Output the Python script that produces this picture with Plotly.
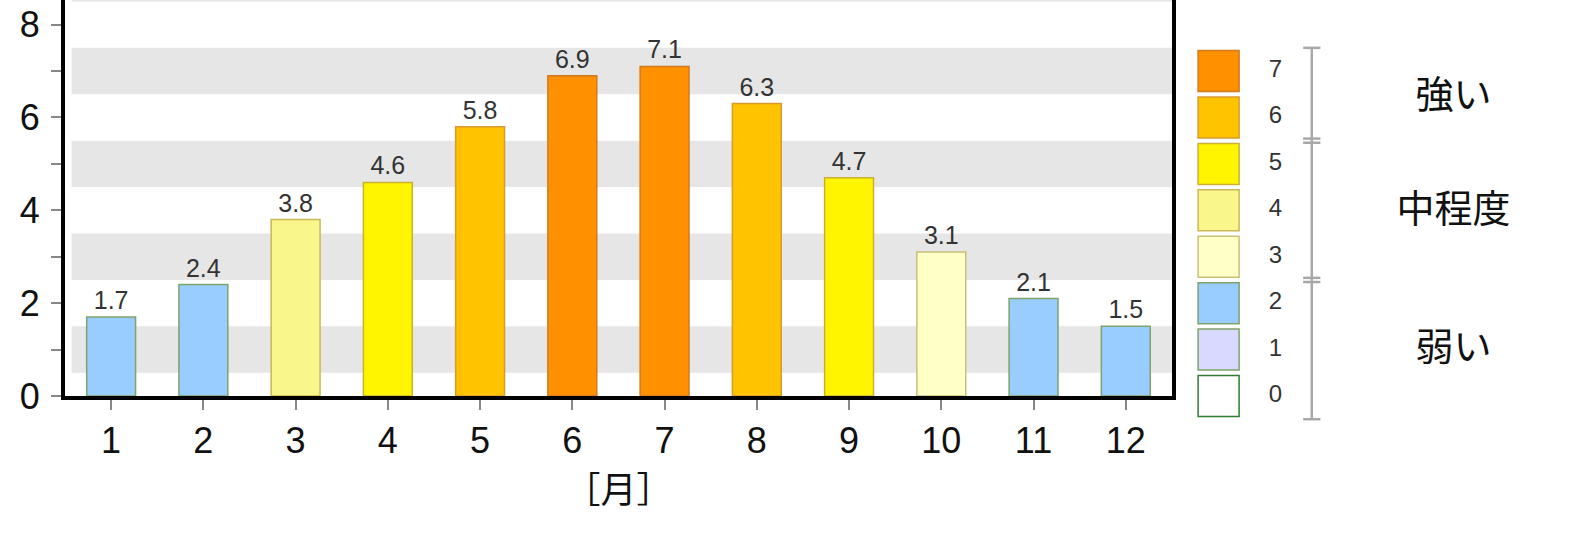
import plotly.graph_objects as go

months = [1, 2, 3, 4, 5, 6, 7, 8, 9, 10, 11, 12]
uv_index = [1.7, 2.4, 3.8, 4.6, 5.8, 6.9, 7.1, 6.3, 4.7, 3.1, 2.1, 1.5]

levels = [0, 1, 2, 3, 4, 5, 6, 7]
level_fill = ["#ffffff", "#d9d9ff", "#99ccff", "#ffffc8", "#f9f78c", "#fff500", "#ffc300", "#ff9100"]
level_line = ["#2e7d32", "#7fa36a", "#7fa36a", "#c9c07a", "#c9b75a", "#c9b030", "#d89a30", "#d07a20"]

groups = ["強い", "中程度", "弱い"]
group_mid = [6.4, 3.95, 0.98]
group_breaks = [-0.5, 2.5, 5.5, 7.5]

band_lo = [0.5, 2.5, 4.5, 6.5, 8.5]

FONT = "Liberation Sans, Arial, sans-serif"
JP = "Noto Sans CJK JP, sans-serif"

W, H, BOTTOM = 1571, 546, 150
YMAX = 8.53
# legend axis uses the same scale as the main y axis but reaches the page bottom
y2_min = -BOTTOM * YMAX / (H - BOTTOM)

lvl = [min(7, int(round(v))) for v in uv_index]

fig = go.Figure()
fig.add_trace(go.Bar(
    x=months, y=uv_index, width=0.53,
    marker=dict(color=[level_fill[i] for i in lvl],
                line=dict(color=[level_line[i] for i in lvl], width=1.5)),
    text=[f"{v:.1f}" for v in uv_index], textposition="outside",
    textfont=dict(family=FONT, size=25, color="#333333"),
    cliponaxis=False, showlegend=False, hoverinfo="x+y",
))

fig.add_trace(go.Scatter(
    x=[1.0] * len(levels), y=levels, mode="markers", xaxis="x2", yaxis="y2",
    marker=dict(symbol="square", size=41, color=level_fill,
                line=dict(color=level_line, width=1.5)),
    showlegend=False, hoverinfo="skip",
))
fig.add_trace(go.Scatter(
    x=[2.45] * len(levels), y=levels, mode="text", xaxis="x2", yaxis="y2",
    text=[str(l) for l in levels], textposition="middle center",
    textfont=dict(family=FONT, size=24, color="#333333"),
    showlegend=False, hoverinfo="skip",
))
fig.add_trace(go.Scatter(
    x=[7.0] * len(groups), y=group_mid, mode="text", xaxis="x2", yaxis="y2",
    text=groups, textposition="middle center",
    textfont=dict(family=JP, size=38, color="#111111"),
    showlegend=False, hoverinfo="skip",
))

# bracket next to the legend
bx, cap = 3.38, 0.22
bxs = [bx, bx, None]
bys = [group_breaks[0], group_breaks[-1], None]
for b in group_breaks:
    offs = [0] if b in (group_breaks[0], group_breaks[-1]) else [-0.045, 0.045]
    for d in offs:
        bxs += [bx - cap, bx + cap, None]
        bys += [b + d, b + d, None]
fig.add_trace(go.Scatter(
    x=bxs, y=bys, mode="lines", xaxis="x2", yaxis="y2",
    line=dict(color="#a8a8a8", width=2.5),
    showlegend=False, hoverinfo="skip",
))

shapes = []
for lo in band_lo:
    shapes.append(dict(type="rect", xref="x domain", yref="y", x0=0.006, x1=1,
                       y0=lo, y1=lo + 1, fillcolor="#e6e6e6", line_width=0, layer="below"))

fig.update_layout(
    width=W, height=H,
    margin=dict(l=65, r=0, t=0, b=0, autoexpand=False),
    paper_bgcolor="white", plot_bgcolor="white",
    shapes=shapes,
    xaxis=dict(domain=[0, 0.735], range=[0.5, 12.5], tickvals=months, anchor="y",
               ticks="outside", ticklen=10, tickwidth=2, tickcolor="#888888",
               tickfont=dict(family=FONT, size=36, color="#111111"),
               showline=True, linecolor="black", linewidth=4,
               showgrid=False, zeroline=False, automargin=False,
               title=dict(text="［月］", font=dict(family=JP, size=36, color="#111111"), standoff=4)),
    yaxis=dict(domain=[BOTTOM / H, 1], range=[0, YMAX], dtick=2, tick0=0, anchor="x",
               ticks="outside", ticklen=10, tickwidth=2, tickcolor="#888888",
               minor=dict(dtick=1, ticks="outside", ticklen=10, tickwidth=2, tickcolor="#888888"),
               tickfont=dict(family=FONT, size=36, color="#111111"),
               ticklabelstandoff=4,
               showline=True, linecolor="black", linewidth=4, mirror=True,
               showgrid=False, zeroline=False, automargin=False),
    xaxis2=dict(domain=[0.740, 1], range=[0, 10], anchor="y2", visible=False),
    yaxis2=dict(domain=[0, 1], range=[y2_min, YMAX], anchor="x2", visible=False),
)

fig.write_html("out.html", config={"displayModeBar": False},
               post_script="document.body.style.margin='0px';")
